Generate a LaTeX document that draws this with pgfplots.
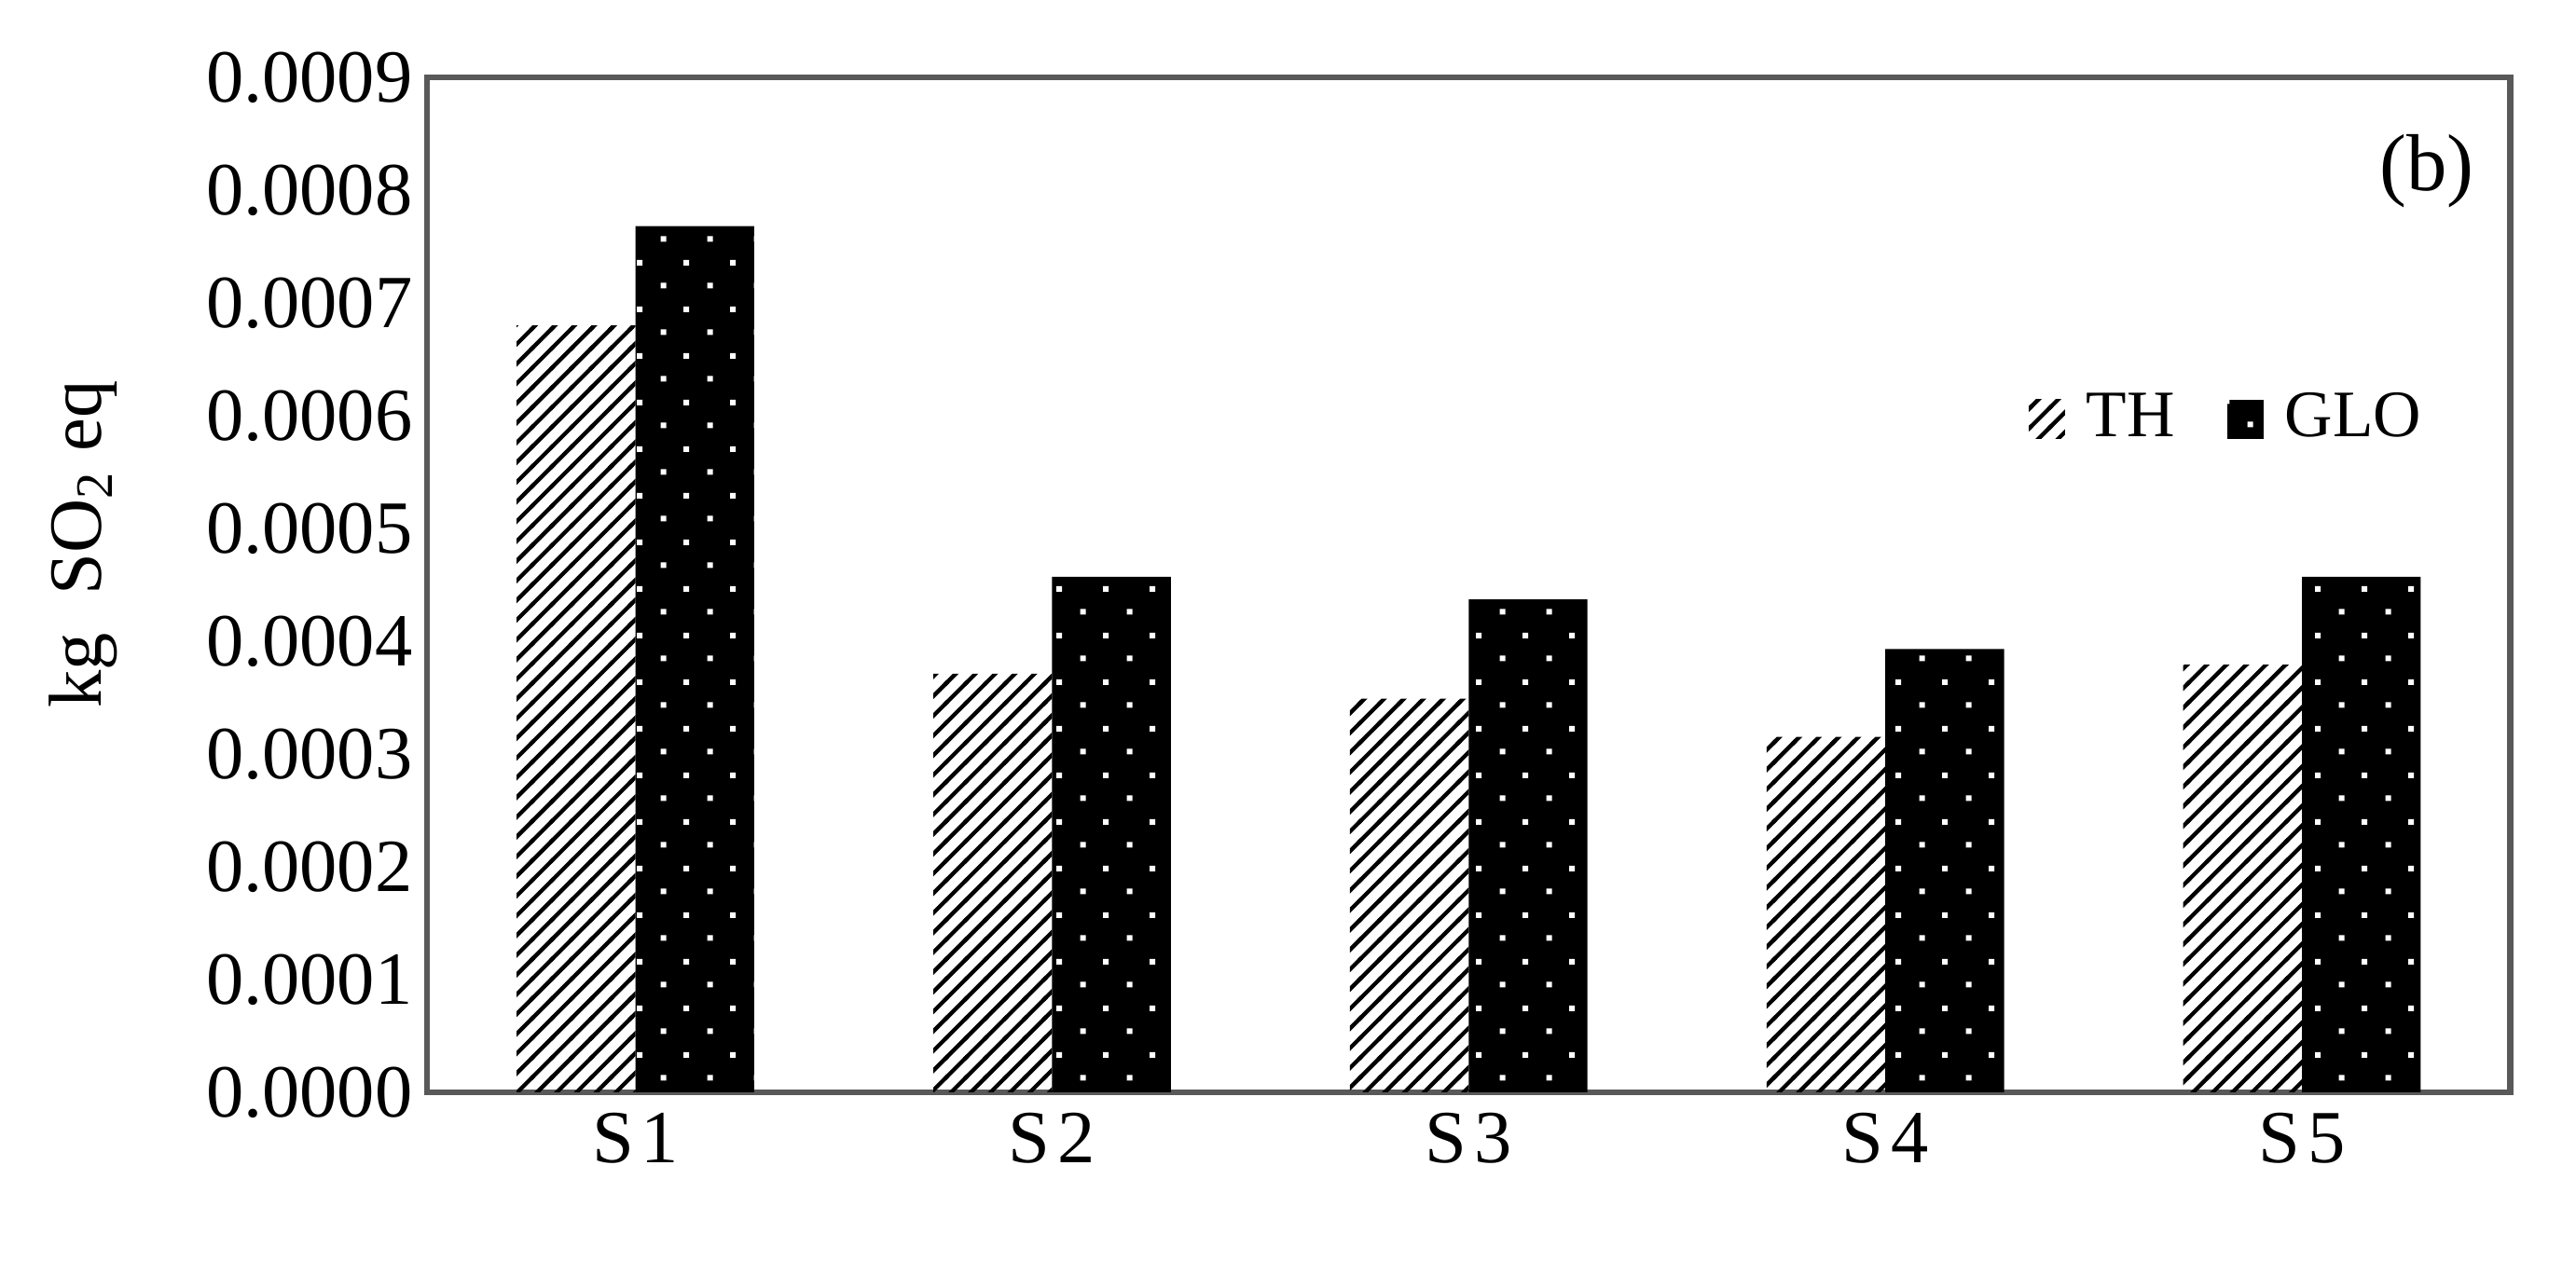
\documentclass[border=0pt]{standalone}
\usepackage{fontspec}
\setmainfont{Liberation Serif}
\usepackage{pgfplots}
\pgfplotsset{compat=1.18}
\usetikzlibrary{patterns}
\definecolor{framegray}{HTML}{595959}
\pgfdeclarepatternformonly{mydots}{\pgfpointorigin}{\pgfpoint{0.284cm}{0.284cm}}{\pgfpoint{0.284cm}{0.284cm}}{%
  \pgfpathrectangle{\pgfpoint{0.05cm}{0.05cm}}{\pgfpoint{0.034cm}{0.034cm}}%
  \pgfpathrectangle{\pgfpoint{0.192cm}{0.192cm}}{\pgfpoint{0.034cm}{0.034cm}}%
  \pgfusepath{fill}}
\pgfdeclarepatternformonly{myhatch}{\pgfpoint{-0.02cm}{-0.02cm}}{\pgfpoint{0.14cm}{0.14cm}}{\pgfpoint{0.12cm}{0.12cm}}{%
  \pgfsetlinewidth{0.7pt}%
  \pgfpathmoveto{\pgfpoint{-0.01cm}{-0.01cm}}\pgfpathlineto{\pgfpoint{0.13cm}{0.13cm}}%
  \pgfusepath{stroke}}
\begin{document}
\begin{tikzpicture}
\begin{axis}[
  scale only axis,
  width=12.68cm, height=6.18cm,
  xmin=-0.5, xmax=4.5,
  ymin=0, ymax=0.0009,
  ytick={0,0.0001,0.0002,0.0003,0.0004,0.0005,0.0006,0.0007,0.0008,0.0009},
  xtick={0,1,2,3,4},
  xticklabels={S\kern0.1em 1,S\kern0.1em 2,S\kern0.1em 3,S\kern0.1em 4,S\kern0.1em 5},
  major tick length=0pt,
  axis line style={draw=framegray, line width=1pt},
  scaled y ticks=false,
  /pgf/number format/fixed,
  /pgf/number format/fixed zerofill,
  /pgf/number format/precision=4,
  /pgf/number format/assume math mode=true,
  tick label style={font=\fontsize{13}{15}\selectfont},
  yticklabel style={xshift=1pt},
  xticklabel style={yshift=0pt},
  ylabel={kg\ \ SO\textsubscript{2} eq},
  ylabel style={font=\fontsize{13}{15}\selectfont, at={(axis description cs:-0.165,0.54)}, anchor=center},
  legend style={draw=none, fill=none, at={(0.76,0.663)}, anchor=west, legend columns=2, font=\fontsize{11.5}{14}\selectfont, /tikz/every even column/.append style={column sep=0.25cm}, /tikz/every odd column/.append style={column sep=0.06cm}},
  legend image code/.code={\path[#1] (0cm,-0.12cm) rectangle (0.22cm,0.12cm);},
  clip=false,
]
\addplot[ybar, bar width=0.285, bar shift=-0.1425, draw=none, pattern=myhatch, pattern color=black]
  coordinates {(0,0.000680) (1,0.000371) (2,0.000349) (3,0.000315) (4,0.000379)};
\addlegendentry{TH}
\addplot[ybar, bar width=0.285, bar shift=0.1425, draw=none, fill=black, postaction={pattern=mydots, pattern color=white}]
  coordinates {(0,0.000768) (1,0.000457) (2,0.000437) (3,0.000393) (4,0.000457)};
\addlegendentry{GLO}
\node[font=\fontsize{14}{16}\selectfont] at (axis description cs:0.96,0.907) {(b)};
\end{axis}
\path (current axis.south west) ++(-2.6cm,-1.11cm) coordinate (bbA);
\path (current axis.north east) ++(0.4cm,0.47cm) coordinate (bbB);
\path (bbA) rectangle (bbB);
\end{tikzpicture}
\end{document}
